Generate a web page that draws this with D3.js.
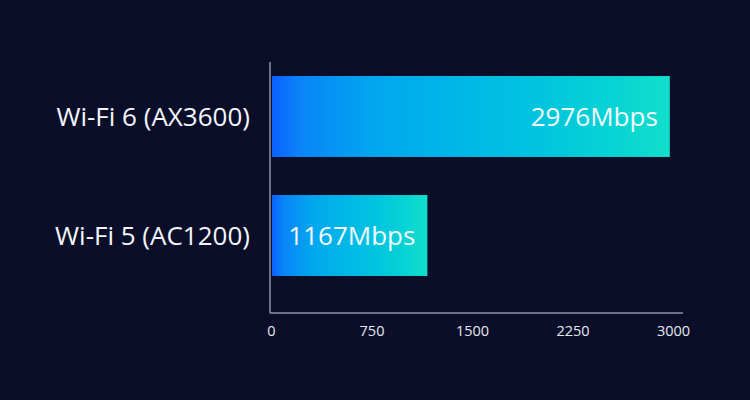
<!DOCTYPE html>
<html>
<head>
<meta charset="utf-8">
<script src="https://cdn.jsdelivr.net/npm/d3@7"></script>
<style>
  html, body { margin: 0; padding: 0; background: #0a0e29; }
  svg { display: block; }
</style>
</head>
<body>
<svg id="chart" width="750" height="400"></svg>
<script>
const categories = ["Wi-Fi 6 (AX3600)", "Wi-Fi 5 (AC1200)"];
const values = [2976, 1167];
const unit = "Mbps";
const tickValues = [0, 750, 1500, 2250, 3000];

const svg = d3.select("#chart");
const W = 750, H = 400;
svg.append("rect").attr("width", W).attr("height", H).attr("fill", "#0a0e29");

const x = d3.scaleLinear().domain([0, 3000]).range([271, 673]);
const y = d3.scaleBand().domain(categories).range([57, 295]).paddingInner(0.32).paddingOuter(0.16);

const defs = svg.append("defs");
const grad = defs.append("linearGradient").attr("id", "barGrad")
  .attr("x1", "0%").attr("x2", "100%").attr("y1", "0%").attr("y2", "0%");
[["0%", "#0b60ff"], ["7%", "#0a84f9"], ["25%", "#02a6ef"], ["45%", "#00b6e8"],
 ["65%", "#00c3e0"], ["85%", "#06d3d4"], ["100%", "#12dfcb"]].forEach(([o, c]) =>
  grad.append("stop").attr("offset", o).attr("stop-color", c));

// axes lines
svg.append("line").attr("x1", 270).attr("x2", 270).attr("y1", 62).attr("y2", 313)
  .attr("stroke", "#8d91ab").attr("stroke-width", 1.5);
svg.append("line").attr("x1", 270).attr("x2", 683).attr("y1", 313).attr("y2", 313)
  .attr("stroke", "#8d91ab").attr("stroke-width", 1.5);

// bars
svg.selectAll("rect.bar").data(values).enter().append("rect")
  .attr("class", "bar")
  .attr("x", x(0) + 1)
  .attr("y", (d, i) => y(categories[i]))
  .attr("width", d => x(d) - x(0) - 1)
  .attr("height", y.bandwidth())
  .attr("fill", "url(#barGrad)");

// value labels
svg.selectAll("text.val").data(values).enter().append("text")
  .attr("class", "val")
  .attr("x", d => x(d) - 12)
  .attr("y", (d, i) => y(categories[i]) + y.bandwidth() / 2)
  .attr("dy", "0.36em")
  .attr("text-anchor", "end")
  .attr("fill", "#f4f8ff")
  .attr("font-family", "'Open Sans', sans-serif")
  .attr("font-size", 26)
  .text(d => d + unit);

// category labels
svg.selectAll("text.cat").data(categories).enter().append("text")
  .attr("class", "cat")
  .attr("x", 250)
  .attr("y", d => y(d) + y.bandwidth() / 2)
  .attr("dy", "0.36em")
  .attr("text-anchor", "end")
  .attr("fill", "#f4f6fb")
  .attr("font-family", "'Open Sans', sans-serif")
  .attr("font-size", 26)
  .text(d => d);

// tick labels
const xAxis = d3.axisBottom(x).tickValues(tickValues).tickSize(0).tickPadding(0).tickFormat(d3.format("d"));
const gx = svg.append("g").attr("transform", "translate(0,326)").call(xAxis);
gx.select(".domain").remove();
gx.selectAll("text")
  .attr("fill", "#e6e8f0")
  .attr("font-family", "'Open Sans', sans-serif")
  .attr("font-size", 14.5)
  .attr("dy", "0.71em");
</script>
</body>
</html>
